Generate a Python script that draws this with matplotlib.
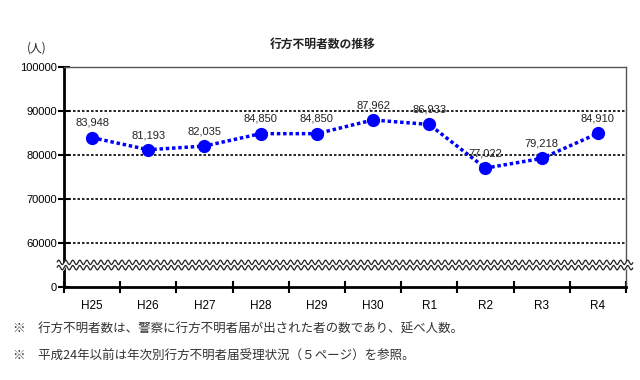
import numpy as np
import matplotlib
matplotlib.use("Agg")
import matplotlib.pyplot as plt
import matplotlib.transforms as mtransforms

plt.rcParams['font.family'] = ['Liberation Sans', 'Noto Sans CJK JP', 'DejaVu Sans']

categories = ["H25", "H26", "H27", "H28", "H29", "H30", "R1", "R2", "R3", "R4"]
values = [83948, 81193, 82035, 84850, 84850, 87962, 86933, 77022, 79218, 84910]
ytick_values = [50000, 60000, 70000, 80000, 90000, 100000]
ytick_labels = ["0", "60000", "70000", "80000", "90000", "100000"]
grid_values = [60000, 70000, 80000, 90000]
title = "行方不明者数の推移"
unit = "(人)"
notes = ["※　行方不明者数は、警察に行方不明者届が出された者の数であり、延べ人数。",
         "※　平成24年以前は年次別行方不明者届受理状況（５ページ）を参照。"]

fig = plt.figure(figsize=(6.4, 3.8), dpi=100)
ax = fig.add_axes([0.1, 0.2447, 0.878, 0.579])

x = np.arange(len(categories))
ax.set_xlim(-0.5, len(categories) - 0.5)
ax.set_ylim(50000, 100000)

for g in grid_values:
    ax.axhline(g, color='black', lw=1.2, ls=(0, (1.5, 1.2)), zorder=1)

ax.plot(x, values, color='#0000ff', lw=2.5, ls=(0, (1, 0.8)), zorder=3)
ax.plot(x, values, 'o', color='#0000ff', ms=8.5, zorder=4)

for xi, v in zip(x, values):
    ax.annotate(f"{v:,}", (xi, v), xytext=(0, 7), textcoords='offset points',
                ha='center', va='bottom', fontsize=8, color='#222222')

ax.set_yticks(ytick_values)
ax.set_yticklabels(ytick_labels, fontsize=8)
ax.set_xticks(np.arange(-0.5, len(categories), 1.0))
ax.set_xticklabels([])
ax.set_xticks(x, minor=True)
ax.set_xticklabels(categories, minor=True, fontsize=8.5)
ax.tick_params(axis='x', which='minor', length=0, pad=9)
ax.tick_params(axis='x', which='major', direction='inout', length=8, width=1.5)
ax.tick_params(axis='y', direction='inout', length=8, width=1.5, pad=1)

for s in ['left', 'bottom']:
    ax.spines[s].set_linewidth(2)
    ax.spines[s].set_color('black')
for s in ['top', 'right']:
    ax.spines[s].set_linewidth(1)
    ax.spines[s].set_color('#555555')

# axis break wave
trans = mtransforms.blended_transform_factory(ax.transAxes, ax.transData)
xw = np.linspace(-0.012, 1.012, 2000)
amp = 500
freq = 80
y1 = 55600 + amp * np.sin(2 * np.pi * freq * xw)
y2 = 54400 + amp * np.sin(2 * np.pi * freq * xw)
ax.fill_between(xw, y2, y1, color='white', transform=trans, zorder=5, clip_on=False)
ax.plot(xw, y1, color='#222222', lw=0.9, transform=trans, zorder=6, clip_on=False)
ax.plot(xw, y2, color='#222222', lw=0.9, transform=trans, zorder=6, clip_on=False)

fig.text(0.505, 0.882, title, ha='center', va='center', fontsize=8.5, fontweight='bold',
         family=['Noto Sans CJK JP', 'DejaVu Sans'], color='#222222')
fig.text(0.058, 0.874, unit, ha='center', va='center', fontsize=8.5,
         family=['Noto Sans CJK JP', 'DejaVu Sans'], color='#222222')
fig.text(0.02, 0.135, notes[0], ha='left', va='center', fontsize=9,
         family=['Noto Sans CJK JP', 'DejaVu Sans'], color='#333333')
fig.text(0.02, 0.062, notes[1], ha='left', va='center', fontsize=9,
         family=['Noto Sans CJK JP', 'DejaVu Sans'], color='#333333')

fig.savefig("out.png", dpi=100)
